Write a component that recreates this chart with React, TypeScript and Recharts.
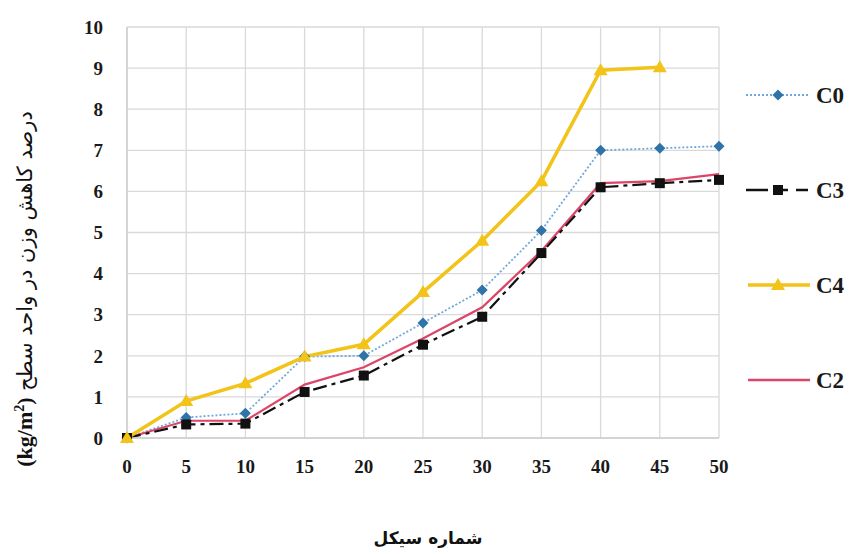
import React from "react";
import {
  LineChart,
  Line,
  XAxis,
  YAxis,
  CartesianGrid,
  Legend,
} from "recharts";

// cycle numbers on the x axis
const cycles = [0, 5, 10, 15, 20, 25, 30, 35, 40, 45, 50];

// weight loss per unit area (kg/m2) for each mix
const c0 = [0, 0.5, 0.6, 1.98, 2.0, 2.8, 3.6, 5.05, 7.0, 7.05, 7.1];
const c3 = [0, 0.33, 0.35, 1.12, 1.52, 2.27, 2.95, 4.5, 6.1, 6.2, 6.28];
const c4 = [0, 0.9, 1.33, 1.98, 2.28, 3.55, 4.8, 6.25, 8.95, 9.02, null];
const c2 = [0, 0.42, 0.42, 1.3, 1.72, 2.42, 3.18, 4.55, 6.2, 6.25, 6.42];

const xTicks = [0, 5, 10, 15, 20, 25, 30, 35, 40, 45, 50];
const yTicks = [0, 1, 2, 3, 4, 5, 6, 7, 8, 9, 10];

const data = cycles.map((cycle, i) => ({
  cycle,
  C0: c0[i],
  C3: c3[i],
  C4: c4[i],
  C2: c2[i],
}));

const tickStyle = {
  fontFamily: "'Liberation Serif', serif",
  fontWeight: 700,
  fontSize: 19,
  fill: "#1a1a1a",
};

const Diamond = (props: any) => {
  const { cx, cy, index } = props;
  if (cx == null || cy == null) return <g key={`d${index}`} />;
  return (
    <path
      key={`d${index}`}
      d={`M${cx},${cy - 5.5}L${cx + 5.5},${cy}L${cx},${cy + 5.5}L${cx - 5.5},${cy}Z`}
      fill="#2f73a8"
    />
  );
};

const Square = (props: any) => {
  const { cx, cy, index } = props;
  if (cx == null || cy == null) return <g key={`s${index}`} />;
  return <rect key={`s${index}`} x={cx - 5} y={cy - 5} width={10} height={10} fill="#111" />;
};

const Triangle = (props: any) => {
  const { cx, cy, index } = props;
  if (cx == null || cy == null) return <g key={`t${index}`} />;
  return (
    <path
      key={`t${index}`}
      d={`M${cx},${cy - 7}L${cx + 7},${cy + 5}L${cx - 7},${cy + 5}Z`}
      fill="#f2c318"
    />
  );
};

const legendLabel = {
  fontFamily: "'Liberation Serif', serif",
  fontWeight: 700,
  fontSize: 23,
  fill: "#1a1a1a",
};

const LegendBox = () => (
  <svg width={124} height={340}>
    {/* C0 */}
    <line x1={6} y1={15} x2={68} y2={15} stroke="#6fa8dc" strokeWidth={2} strokeDasharray="2 2" />
    <path d="M38,9.5L43.5,15L38,20.5L32.5,15Z" fill="#2f73a8" />
    <text x={76} y={23} {...legendLabel}>C0</text>
    {/* C3 */}
    <line x1={6} y1={110} x2={68} y2={110} stroke="#111" strokeWidth={2.5} strokeDasharray="22 8 12 8" />
    <rect x={33} y={105} width={10} height={10} fill="#111" />
    <text x={76} y={118} {...legendLabel}>C3</text>
    {/* C4 */}
    <line x1={8} y1={205} x2={70} y2={205} stroke="#f2c318" strokeWidth={3.5} />
    <path d="M38,198L45,210L31,210Z" fill="#f2c318" />
    <text x={76} y={213} {...legendLabel}>C4</text>
    {/* C2 */}
    <line x1={8} y1={300} x2={70} y2={300} stroke="#dc4468" strokeWidth={2.5} />
    <text x={76} y={308} {...legendLabel}>C2</text>
  </svg>
);

export default function App() {
  return (
    <div style={{ position: "absolute", left: 0, top: 0, width: 864, height: 554, background: "#fff" }}>
      <LineChart
        width={864}
        height={554}
        data={data}
        margin={{ top: 27, right: 21, left: 67, bottom: 86 }}
      >
        <CartesianGrid stroke="#d9d9d9" strokeWidth={1.3} />
        <XAxis
          dataKey="cycle"
          type="number"
          domain={[0, 50]}
          ticks={xTicks}
          height={30}
          tickLine={false}
          tickSize={0}
          tickMargin={22}
          axisLine={{ stroke: "#cfcfcf", strokeWidth: 1.5 }}
          tick={tickStyle}
        />
        <YAxis
          type="number"
          domain={[0, 10]}
          ticks={yTicks}
          width={60}
          tickLine={false}
          tickSize={0}
          tickMargin={24}
          axisLine={{ stroke: "#cfcfcf", strokeWidth: 1.5 }}
          tick={tickStyle}
        />
        <Line
          dataKey="C0"
          stroke="#6fa8dc"
          strokeWidth={1.8}
          strokeDasharray="2 2"
          dot={Diamond}
          activeDot={false}
          isAnimationActive={false}
        />
        <Line
          dataKey="C2"
          stroke="#dc4468"
          strokeWidth={2.2}
          dot={false}
          activeDot={false}
          isAnimationActive={false}
        />
        <Line
          dataKey="C3"
          stroke="#111"
          strokeWidth={2.2}
          strokeDasharray="14 5 4 5"
          dot={Square}
          activeDot={false}
          isAnimationActive={false}
        />
        <Line
          dataKey="C4"
          stroke="#f2c318"
          strokeWidth={3.5}
          dot={Triangle}
          activeDot={false}
          connectNulls={false}
          isAnimationActive={false}
        />
        <Legend
          layout="vertical"
          align="right"
          verticalAlign="top"
          content={() => <LegendBox />}
          wrapperStyle={{ left: 740, top: 80, width: 124 }}
        />
      </LineChart>
      <div
        style={{
          position: "absolute",
          left: 25,
          top: 289,
          transform: "translate(-50%, -50%) rotate(-90deg)",
          whiteSpace: "nowrap",
          fontSize: 21,
          fontFamily: "'DejaVu Sans', sans-serif",
          color: "#111",
          direction: "ltr",
        }}
      >
        <span style={{ fontFamily: "'Liberation Serif', serif", fontWeight: 700, fontSize: 22 }}>
          (kg/m<sup style={{ fontSize: 14 }}>2</sup>)
        </span>{" "}
        <span dir="rtl">درصد کاهش وزن در واحد سطح</span>
      </div>
      <div
        style={{
          position: "absolute",
          left: 428,
          top: 538,
          transform: "translate(-50%, -50%)",
          whiteSpace: "nowrap",
          fontSize: 17,
          fontWeight: 700,
          fontFamily: "'DejaVu Sans', sans-serif",
          color: "#111",
        }}
      >
        شماره سیکل
      </div>
    </div>
  );
}
